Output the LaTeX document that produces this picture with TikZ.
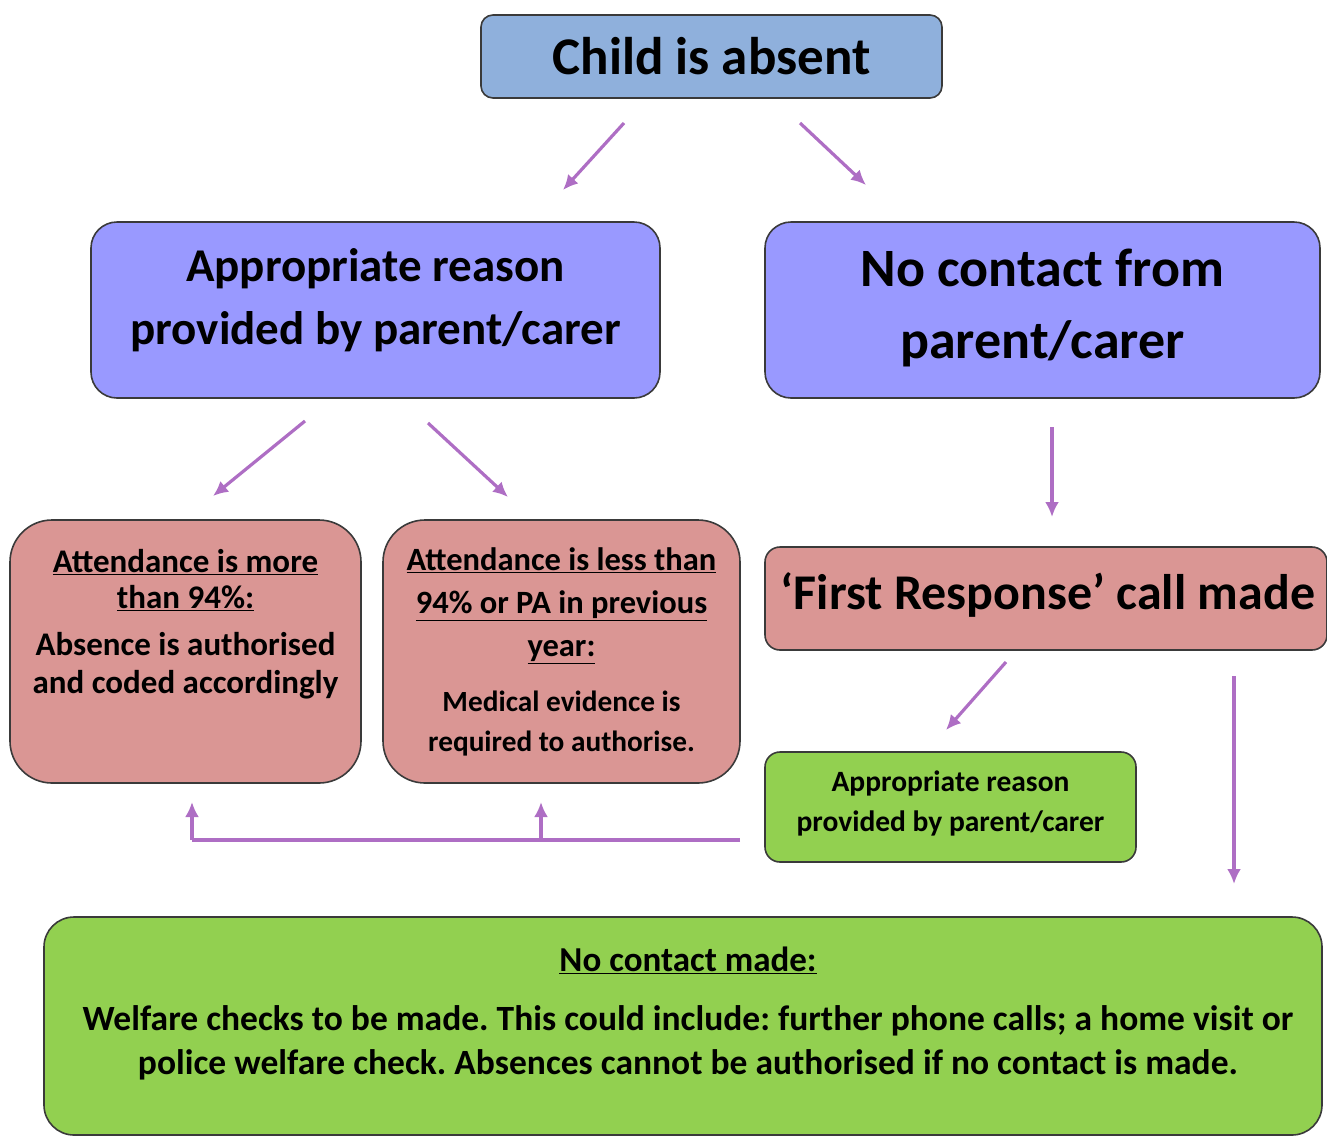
\documentclass[tikz,border=0pt]{standalone}
\usepackage{fontspec}
\setmainfont{Carlito}
\usetikzlibrary{arrows.meta}
\definecolor{topblue}{HTML}{8FB0DC}
\definecolor{peri}{HTML}{9999FF}
\definecolor{pinkb}{HTML}{DA9694}
\definecolor{greenb}{HTML}{92D050}
\definecolor{arr}{HTML}{AE6EC4}
\definecolor{edge}{HTML}{3A3A3A}
\tikzset{
  box/.style={draw=edge, line width=1.6pt, inner sep=0pt},
  conn/.style={draw=arr, line width=3.2pt, -{Latex[length=15pt,width=14pt]}},
  plain/.style={draw=arr, line width=3.2pt},
  txt/.style={align=center, inner sep=0pt, font=\bfseries}
}
\frenchspacing
\begin{document}
\begin{tikzpicture}[x=1pt,y=-1pt]
\frenchspacing
\useasboundingbox (0,0) rectangle (1327,1136);
% boxes
\node[box, fill=topblue, rounded corners=12pt, minimum width=461pt, minimum height=83pt,
  font=\fontsize{53}{60}\selectfont\bfseries] (child) at (711.5,56.5) {Child is absent};
\node[box, fill=peri, rounded corners=26pt, minimum width=569pt, minimum height=176pt] (appr) at (375.5,310) {};
\node[txt, font=\fontsize{47}{63}\selectfont\bfseries] (apprt) at (375.5,300) {Appropriate reason\\provided by parent/carer};
\node[box, fill=peri, rounded corners=26pt, minimum width=555pt, minimum height=176pt] (noc) at (1042.5,310) {};
\node[txt, font=\fontsize{54}{72}\selectfont\bfseries] (noct) at (1042.5,308) {No contact from\\parent/carer};
\node[box, fill=pinkb, rounded corners=42pt, minimum width=351pt, minimum height=263pt] (more) at (185.5,651.5) {};
\node[txt, font=\fontsize{33}{36}\selectfont\bfseries] (moreh) at (185.5,580) {\underline{Attendance is more}\\\underline{than 94\%:}};
\node[txt, font=\fontsize{33}{38}\selectfont\bfseries] (moreb) at (185.5,666) {Absence is authorised\\and coded accordingly};
\node[box, fill=pinkb, rounded corners=42pt, minimum width=357pt, minimum height=263pt] (less) at (561.5,651.5) {};
\node[txt, font=\fontsize{32.5}{43}\selectfont\bfseries] (lessh) at (561.5,606) {\underline{Attendance is less than}\\\underline{94\% or PA in previous}\\\underline{year:}};
\node[txt, font=\fontsize{29.3}{40}\selectfont\bfseries] (lessb) at (561.5,724) {Medical evidence is\\required to authorise.};
\node[box, fill=pinkb, rounded corners=15pt, minimum width=562pt, minimum height=103pt,
  font=\fontsize{50}{56}\selectfont\bfseries] (first) at (1046,598.5) {};
\node[txt, font=\fontsize{50}{56}\selectfont\bfseries] (firstt) at (1048,595) {‘First Response’ call made};
\node[box, fill=greenb, rounded corners=15pt, minimum width=371pt, minimum height=110pt] (grn) at (950.5,807) {};
\node[txt, font=\fontsize{29.5}{40}\selectfont\bfseries] (grnt) at (950.5,803) {Appropriate reason\\provided by parent/carer};
\node[box, fill=greenb, rounded corners=30pt, minimum width=1278pt, minimum height=218pt] (nomade) at (683,1026) {};
\node[txt, font=\fontsize{35}{36}\selectfont\bfseries] (nomh) at (688,960) {\underline{No contact made:}};
\node[txt, font=\fontsize{35.5}{44}\selectfont\bfseries] (nomb) at (688,1043) {Welfare checks to be made. This could include: further phone calls; a home visit or\\police welfare check. Absences cannot be authorised if no contact is made.};
% arrow end points
\coordinate (a1s) at (624,123); \coordinate (a1e) at (563,190);
\coordinate (a2s) at (800,123); \coordinate (a2e) at (866,185);
\coordinate (a3s) at (305,421); \coordinate (a3e) at (213,496);
\coordinate (a4s) at (428,423); \coordinate (a4e) at (508,497);
\coordinate (a5s) at (1052,427); \coordinate (a5e) at (1052,517);
\coordinate (a6s) at (1006,662); \coordinate (a6e) at (946,730);
\coordinate (a7s) at (1234,676); \coordinate (a7e) at (1234,884);
\coordinate (h0) at (740,840); \coordinate (h1) at (192,840); \coordinate (h2) at (541,840);
\coordinate (u1) at (192,802); \coordinate (u2) at (541,802);
\draw[conn] (a1s) -- (a1e);
\draw[conn] (a2s) -- (a2e);
\draw[conn] (a3s) -- (a3e);
\draw[conn] (a4s) -- (a4e);
\draw[conn] (a5s) -- (a5e);
\draw[conn] (a6s) -- (a6e);
\draw[conn] (a7s) -- (a7e);
\draw[plain] (h0) -- (h1);
\draw[conn] (h1) -- (u1);
\draw[conn] (h2) -- (u2);
\end{tikzpicture}
\end{document}
